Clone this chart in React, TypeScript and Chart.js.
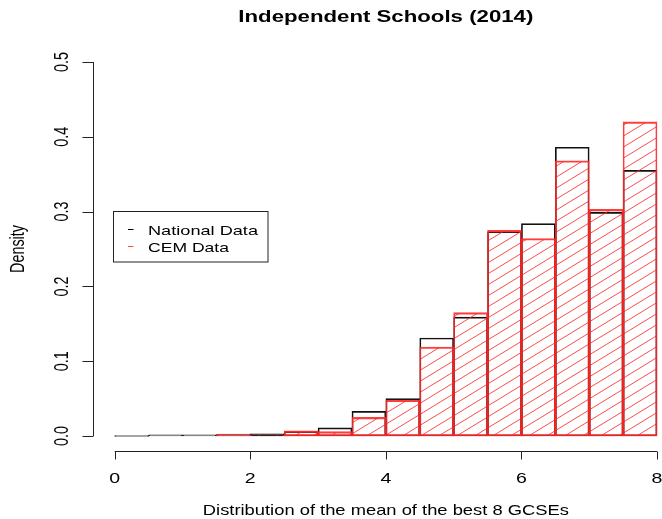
import React, { useEffect, useRef } from 'react';
import { Chart, registerables } from 'chart.js';

Chart.register(...registerables);

// ---- data ----
const BIN_CENTERS = [0.25, 0.75, 1.25, 1.75, 2.25, 2.75, 3.25, 3.75, 4.25, 4.75, 5.25, 5.75, 6.25, 6.75, 7.25, 7.75];
const NATIONAL = [0, 0.0015, 0.0015, 0.002, 0.003, 0.006, 0.011, 0.033, 0.05, 0.131, 0.159, 0.273, 0.284, 0.386, 0.299, 0.355];
const CEM = [0, 0, 0, 0.0025, 0.001, 0.007, 0.006, 0.025, 0.048, 0.119, 0.165, 0.275, 0.264, 0.368, 0.303, 0.42];
const X_TICKS = [0, 2, 4, 6, 8];
const X_TICK_LABELS = ['0', '2', '4', '6', '8'];
const Y_TICKS = [0, 0.1, 0.2, 0.3, 0.4, 0.5];
const Y_TICK_LABELS = ['0.0', '0.1', '0.2', '0.3', '0.4', '0.5'];
const TITLE = 'Independent Schools (2014)';
const X_TITLE = 'Distribution of the mean of the best 8 GCSEs';
const Y_TITLE = 'Density';
const SERIES_NAMES = ['National Data', 'CEM Data'];

const FONT = '"Liberation Sans", Arial, Helvetica, sans-serif';
const SX = 1.36; // horizontal stretch of the reference glyphs

function makeHatch(): CanvasPattern | string {
  const W = 18;
  const H = 11;
  const c = document.createElement('canvas');
  c.width = W;
  c.height = H;
  const g = c.getContext('2d');
  if (!g) return 'rgba(0,0,0,0)';
  g.strokeStyle = 'rgba(255,30,30,0.8)';
  g.lineWidth = 1;
  for (let k = -1; k <= 1; k++) {
    g.beginPath();
    g.moveTo(0, H + k * H);
    g.lineTo(W, k * H);
    g.stroke();
  }
  const p = g.createPattern(c, 'repeat');
  return p || 'rgba(0,0,0,0)';
}

function drawText(
  ctx: CanvasRenderingContext2D,
  text: string,
  x: number,
  y: number,
  font: string,
  opts: { targetW?: number; sx?: number; align?: CanvasTextAlign; rotate?: boolean; color?: string }
) {
  ctx.save();
  ctx.font = font;
  ctx.fillStyle = opts.color || '#000';
  let sx = opts.sx ?? SX;
  if (opts.targetW) {
    const w = ctx.measureText(text).width;
    sx = opts.targetW / w;
  }
  ctx.translate(x, y);
  if (opts.rotate) {
    ctx.scale(sx, 1);
    ctx.rotate(-Math.PI / 2);
  } else {
    ctx.scale(sx, 1);
  }
  ctx.textAlign = opts.align || 'center';
  ctx.textBaseline = 'alphabetic';
  ctx.fillText(text, 0, 0);
  ctx.restore();
}

const rStylePlugin = {
  id: 'rStyle',
  afterDraw(chart: any) {
    const ctx: CanvasRenderingContext2D = chart.ctx;
    const xs = chart.scales.x;
    const ys = chart.scales.y;
    const area = chart.chartArea;

    ctx.save();
    ctx.strokeStyle = '#222';
    ctx.lineWidth = 1;

    // x axis
    const axY = Math.round(area.bottom) + 0.5;
    const x0 = xs.getPixelForValue(X_TICKS[0]);
    const x1 = xs.getPixelForValue(X_TICKS[X_TICKS.length - 1]);
    ctx.beginPath();
    ctx.moveTo(x0, axY);
    ctx.lineTo(x1, axY);
    X_TICKS.forEach((t) => {
      const px = Math.round(xs.getPixelForValue(t)) + 0.5;
      ctx.moveTo(px, axY);
      ctx.lineTo(px, axY + 8);
    });
    ctx.stroke();

    // y axis
    const axX = Math.round(area.left) + 0.5;
    const y0 = ys.getPixelForValue(Y_TICKS[0]);
    const y1 = ys.getPixelForValue(Y_TICKS[Y_TICKS.length - 1]);
    ctx.beginPath();
    ctx.moveTo(axX, y0);
    ctx.lineTo(axX, y1);
    Y_TICKS.forEach((t) => {
      const py = Math.round(ys.getPixelForValue(t)) + 0.5;
      ctx.moveTo(axX, py);
      ctx.lineTo(axX - 11, py);
    });
    ctx.stroke();
    ctx.restore();

    // tick labels
    X_TICKS.forEach((t, i) => {
      drawText(ctx, X_TICK_LABELS[i], xs.getPixelForValue(t), axY + 31, `14.4px ${FONT}`, { sx: SX });
    });
    Y_TICKS.forEach((t, i) => {
      drawText(ctx, Y_TICK_LABELS[i], axX - 25.5, ys.getPixelForValue(t), `14.4px ${FONT}`, { sx: SX, rotate: true });
    });

    // titles
    const regionCenter = (xs.getPixelForValue(xs.min) + xs.getPixelForValue(8.32)) / 2;
    drawText(ctx, TITLE, regionCenter, 21.5, `bold 16.5px ${FONT}`, { targetW: 295 });
    drawText(ctx, X_TITLE, regionCenter, 515, `14.4px ${FONT}`, { targetW: 366 });
    drawText(ctx, Y_TITLE, 23.5, (area.top + area.bottom) / 2, `14.4px ${FONT}`, { sx: SX, rotate: true });

    // legend
    ctx.save();
    ctx.strokeStyle = '#222';
    ctx.lineWidth = 1;
    ctx.strokeRect(113.5, 211.5, 154.5, 50.5);
    const rows = [
      { y: 229.5, color: '#000', text: SERIES_NAMES[0], base: 235 },
      { y: 246.5, color: 'rgba(255,60,60,0.9)', text: SERIES_NAMES[1], base: 251.5 },
    ];
    rows.forEach((r) => {
      ctx.strokeStyle = r.color;
      ctx.beginPath();
      ctx.moveTo(128, r.y);
      ctx.lineTo(133.5, r.y);
      ctx.stroke();
    });
    ctx.restore();
    drawText(ctx, rows[0].text, 148, rows[0].base, `13.2px ${FONT}`, { targetW: 110, align: 'left' });
    drawText(ctx, rows[1].text, 148, rows[1].base, `13.2px ${FONT}`, { sx: 110 / 78.8 > 0 ? undefined : undefined, targetW: 81, align: 'left' });
  },
};

export default function App() {
  const ref = useRef<HTMLCanvasElement | null>(null);

  useEffect(() => {
    document.body.style.margin = '0';
    const canvas = ref.current;
    if (!canvas) return;
    const hatch = makeHatch();
    const chart = new Chart(canvas, {
      type: 'bar',
      data: {
        datasets: [
          {
            label: SERIES_NAMES[0],
            data: BIN_CENTERS.map((x, i) => ({ x, y: NATIONAL[i] })),
            backgroundColor: 'rgba(0,0,0,0)',
            borderColor: '#111',
            borderWidth: 1,
            borderSkipped: false,
            minBarLength: 1,
            grouped: false,
            barPercentage: 1,
            categoryPercentage: 1,
            order: 1,
          },
          {
            label: SERIES_NAMES[1],
            data: BIN_CENTERS.map((x, i) => ({ x, y: CEM[i] })),
            backgroundColor: hatch as any,
            borderColor: 'rgba(255,40,40,0.9)',
            borderWidth: { top: 1.5, bottom: 1.5, left: 1, right: 1 },
            borderSkipped: false,
            grouped: false,
            barPercentage: 1,
            categoryPercentage: 1,
            order: 0,
          },
        ],
      } as any,
      options: {
        animation: false,
        responsive: false,
        events: [],
        layout: { padding: { left: 93, top: 47, right: 0, bottom: 68 } },
        plugins: {
          legend: { display: false },
          tooltip: { enabled: false },
          title: { display: false },
        },
        scales: {
          x: {
            type: 'linear',
            display: false,
            offset: false,
            min: -0.32,
            max: 8.074,
          },
          y: {
            type: 'linear',
            display: false,
            min: -0.02,
            max: 0.52,
          },
        },
      } as any,
      plugins: [rStylePlugin],
    });
    return () => chart.destroy();
  }, []);

  return (
    <div style={{ width: 662, height: 519, background: '#fff' }}>
      <canvas ref={ref} width={662} height={519} style={{ display: 'block' }} />
    </div>
  );
}
